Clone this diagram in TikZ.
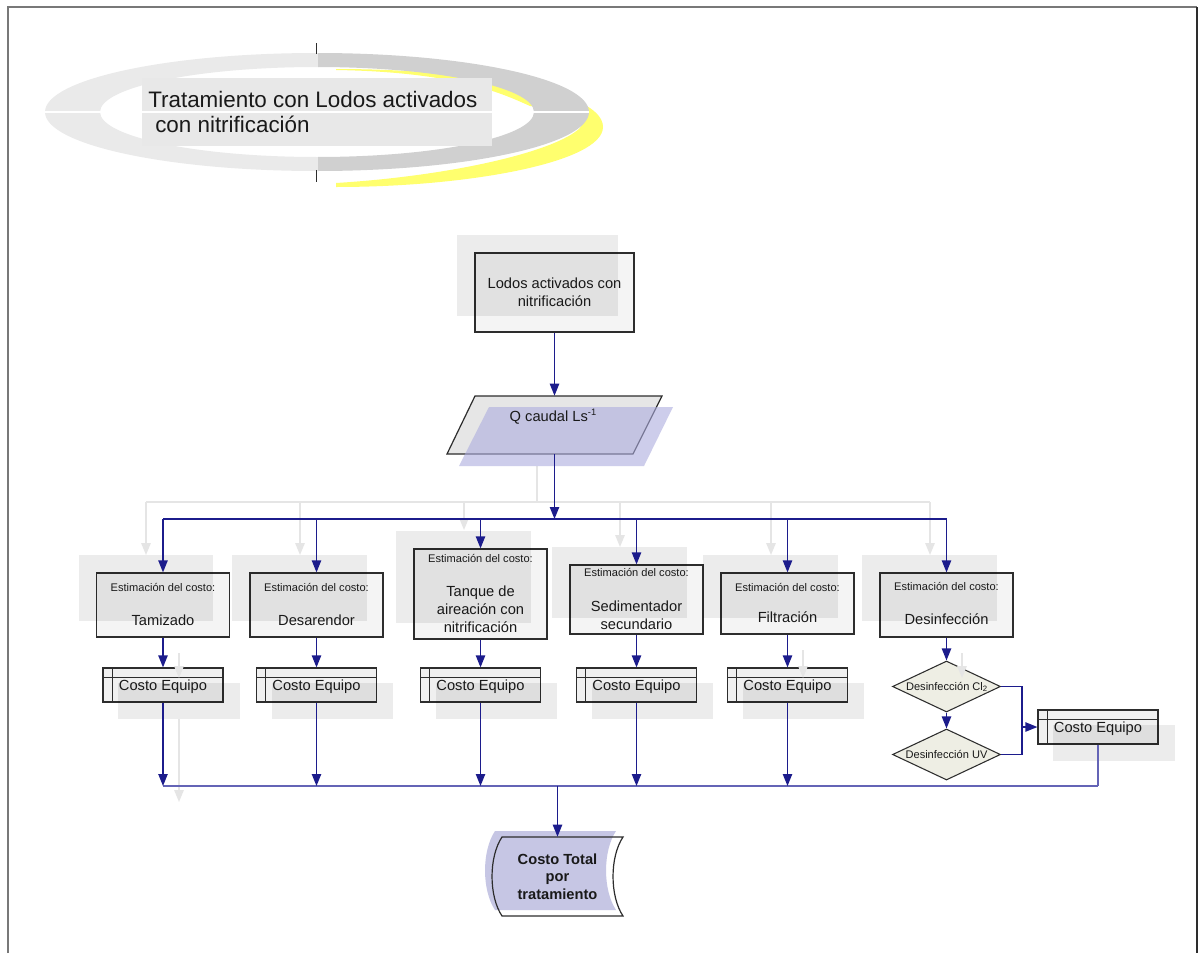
\documentclass[tikz,border=0pt]{standalone}
\usepackage{fontspec}
\setmainfont{Liberation Sans}
\usetikzlibrary{arrows.meta,shapes.geometric}

\definecolor{flowblue}{RGB}{28,28,140}
\definecolor{busblue}{RGB}{100,100,182}
\definecolor{ghostgray}{RGB}{229,229,229}
\definecolor{inkgray}{RGB}{45,45,45}
\definecolor{framegray}{RGB}{120,120,120}
\definecolor{boxfill}{RGB}{244,244,244}
\definecolor{costfill}{RGB}{240,240,240}
\definecolor{parafill}{RGB}{230,230,230}
\definecolor{lavender}{RGB}{172,172,222}
\definecolor{lavsolid}{RGB}{198,198,228}
\definecolor{ringlight}{RGB}{234,234,234}
\definecolor{ringdark}{RGB}{208,208,208}
\definecolor{sunyellow}{RGB}{255,255,110}
\definecolor{diafill}{RGB}{238,238,228}
\definecolor{titlefill}{RGB}{232,232,232}
\definecolor{textgray}{RGB}{25,25,25}

\tikzset{
  flowtip/.style={-{Triangle[length=9pt,width=7pt]}},
  flow/.style={draw=flowblue, line width=1pt, flowtip},
  flowline/.style={draw=flowblue, line width=1pt},
  busline/.style={draw=busblue, line width=1pt},
  ghostline/.style={draw=ghostgray, line width=1.4pt},
  ghostarrow/.style={ghostline, flowtip},
  estbox/.style={rectangle, draw=inkgray, line width=0.9pt, fill=boxfill,
    inner sep=0pt, minimum width=99.75pt},
  costbox/.style={rectangle, draw=inkgray, line width=0.9pt, fill=costfill,
    inner sep=0pt, minimum width=90pt, minimum height=25.5pt,
    path picture={
      \draw[inkgray, line width=0.7pt]
        ([xshift=6.75pt]path picture bounding box.north west) --
        ([xshift=6.75pt]path picture bounding box.south west);
      \draw[inkgray, line width=0.7pt]
        ([yshift=-6.75pt]path picture bounding box.north west) --
        ([yshift=-6.75pt]path picture bounding box.north east);}},
  decision/.style={diamond, draw=inkgray, line width=0.8pt, fill=diafill,
    inner sep=0pt, minimum width=81pt, minimum height=38.25pt},
  anchorbox/.style={rectangle, draw=none, inner sep=0pt},
  boxshadow/.style={fill=black, fill opacity=0.075, draw=none},
  titletxt/.style={font=\fontsize{16.8}{20}\selectfont, text=textgray, anchor=base west, inner sep=0pt},
  maintxt/.style={font=\fontsize{11}{13}\selectfont, text=textgray, anchor=base, inner sep=0pt},
  smalltxt/.style={font=\fontsize{8.3}{10}\selectfont, text=textgray, anchor=base, inner sep=0pt},
  totaltxt/.style={font=\bfseries\fontsize{11}{13.1}\selectfont, text=textgray, align=center, inner sep=0pt}
}

\begin{document}
\begin{tikzpicture}[x=0.75pt,y=-0.75pt]
\useasboundingbox (0,0) rectangle (1199,953);
\fill[white] (0,0) rectangle (1199,953);

% page frame
\draw[framegray, line width=1.5pt] (8,953) -- (8,7) -- (1197,7);
\draw[inkgray, line width=1.5pt] (1197,7) -- (1197,953);

% title emblem: yellow crescent behind a split grey ring, caption band on top
\fill[sunyellow] (336,69) .. controls (470,69) and (603,90) .. (603,127)
  .. controls (603,162) and (470,187) .. (336,187) -- (336,183)
  .. controls (450,176) and (555,152) .. (580,128)
  .. controls (590,112) and (545,108) .. (530,106)
  .. controls (505,95) and (460,72) .. (336,70) -- cycle;
\begin{scope}
  \clip (0,0) rectangle (318,200);
  \fill[ringlight, even odd rule] (317,112) ellipse [x radius=204pt, y radius=44.25pt]
    (317,112) ellipse [x radius=162.75pt, y radius=33.75pt];
\end{scope}
\begin{scope}
  \clip (318,0) rectangle (700,200);
  \fill[ringdark, even odd rule] (317,112) ellipse [x radius=204pt, y radius=44.25pt]
    (317,112) ellipse [x radius=162.75pt, y radius=33.75pt];
\end{scope}
\fill[titlefill] (142,78) rectangle (492,146);
\draw[white, line width=1.2pt] (45,112) -- (589,112);
\draw[inkgray, line width=0.6pt] (316,43) -- (316,54) (316,170) -- (316,182);
\node[titletxt] (title1) at (148,107) {Tratamiento con Lodos activados};
\node[titletxt] (title2) at (155,132) {con nitrificación};

% faint duplicate routing in the background
\draw[ghostline] (537,466) -- (537,502);
\draw[ghostline] (146,502) -- (930,502);
\foreach \gx/\gy in {146/555, 300/555, 464/530, 620/547, 771/555, 930/555}
  \draw[ghostarrow] (\gx,502) -- (\gx,\gy);

% source box
\node[estbox, minimum width=119.25pt, minimum height=59.25pt] (b0) at (554.5,292.5) {};
\fill[boxshadow] ([shift={(-17,-17)}]b0.north west) rectangle ([shift={(-17,-17)}]b0.south east);
\node[maintxt] (b0a) at (554.5,288) {Lodos activados con};
\node[maintxt] (b0b) at (554.5,306) {nitrificación};

% flow input (parallelogram)
\node[anchorbox, minimum width=139.5pt, minimum height=43.5pt] (q) at (554.5,425) {};
\draw[inkgray, line width=0.9pt, fill=parafill] (447,454) -- (475,396) -- (662,396) -- (633,454) -- cycle;
\fill[lavender, fill opacity=0.6] (459,466) -- (489,407) -- (673,407) -- (644,466) -- cycle;
\node[maintxt] (qt) at (553,421) {Q caudal Ls\raisebox{0.75ex}{\fontsize{7}{7}\selectfont -1}};

% estimation boxes
\node[estbox, minimum height=48pt]    (e1) at (163,605) {};
\node[estbox, minimum height=48pt]    (e2) at (316.5,605) {};
\node[estbox, minimum height=67.5pt]  (e3) at (480.5,594) {};
\node[estbox, minimum height=51.75pt] (e4) at (636.5,599.5) {};
\node[estbox, minimum height=45.75pt] (e5) at (787.5,603.5) {};
\node[estbox, minimum height=48pt]    (e6) at (946.5,605) {};
\foreach \e in {e1,e2,e3,e4,e5,e6}
  \fill[boxshadow] ([shift={(-17,-17)}]\e.north west) rectangle ([shift={(-17,-17)}]\e.south east);

% equipment cost boxes
\node[costbox] (c1) at (163,685) {};
\node[costbox] (c2) at (316.5,685) {};
\node[costbox] (c3) at (480.5,685) {};
\node[costbox] (c4) at (636.5,685) {};
\node[costbox] (c5) at (787.5,685) {};
\node[costbox] (c6) at (1098,727) {};
\foreach \c in {c1,c2,c3,c4,c5,c6}
  \fill[boxshadow] ([shift={(16,16)}]\c.north west) rectangle ([shift={(16,16)}]\c.south east);

% disinfection choices
\node[decision] (d1) at (946.5,686.5) {};
\node[decision] (d2) at (946.5,754.5) {};

% faint duplicate arrows over the lower boxes
\draw[ghostarrow] (179,653) -- (179,678);
\draw[ghostarrow] (803,650) -- (803,678);
\draw[ghostarrow] (962,653) -- (962,678);
\draw[ghostarrow] (179,719) -- (179,802);

% total cost (stored data shape)
\fill[white] (502,837) -- (623,837) .. controls (609.7,857) and (609.7,896) .. (623,916)
  -- (502,916) .. controls (488.7,896) and (488.7,857) .. (502,837) -- cycle;
\fill[lavsolid] (495,831) -- (616,831) .. controls (602.7,851) and (602.7,890) .. (616,910)
  -- (495,910) .. controls (481.7,890) and (481.7,851) .. (495,831) -- cycle;
\draw[inkgray, line width=0.9pt] (502,837) -- (623,837) .. controls (609.7,857) and (609.7,896) .. (623,916)
  -- (502,916) .. controls (488.7,896) and (488.7,857) .. (502,837) -- cycle;
\node[anchorbox, totaltxt, minimum width=82.5pt, minimum height=59.25pt] (total) at (557.5,876.5)
  {Costo Total\\por\\tratamiento};

% box captions
\node[smalltxt] (e1a) at (163,591) {Estimación del costo:};
\node[maintxt]  (e1b) at (163,625) {Tamizado};
\node[smalltxt] (e2a) at (316.5,591) {Estimación del costo:};
\node[maintxt]  (e2b) at (316.5,625) {Desarendor};
\node[smalltxt] (e3a) at (480.5,562) {Estimación del costo:};
\node[maintxt]  (e3b) at (480.5,596) {Tanque de};
\node[maintxt]  (e3c) at (480.5,614) {aireación con};
\node[maintxt]  (e3d) at (480.5,632) {nitrificación};
\node[smalltxt] (e4a) at (636.5,576) {Estimación del costo:};
\node[maintxt]  (e4b) at (636.5,611) {Sedimentador};
\node[maintxt]  (e4c) at (636.5,629) {secundario};
\node[smalltxt] (e5a) at (787.5,591) {Estimación del costo:};
\node[maintxt]  (e5b) at (787.5,622) {Filtración};
\node[smalltxt] (e6a) at (946.5,590) {Estimación del costo:};
\node[maintxt]  (e6b) at (946.5,624) {Desinfección};
\foreach \c in {c1,c2,c3,c4,c5,c6}
  \node[maintxt] (\c t) at ([yshift=-3.75pt]\c.center) {Costo Equipo};
\node[smalltxt] (d1t) at (947,690) {Desinfección Cl\textsubscript{2}};
\node[smalltxt] (d2t) at (946.5,758) {Desinfección UV};

% connectors
\coordinate (tb) at (554.5,519);
\coordinate (bb) at (557.5,786);
\coordinate (mj) at (1022,727);
\draw[flow] (b0.south) -- (q.north);
\draw[flow] (q.south) -- (tb);
\draw[flowline] (e1 |- tb) -- (e6 |- tb);
\foreach \e in {e1,e2,e3,e4,e5,e6}
  \draw[flow] (\e |- tb) -- (\e.north);
\foreach \i in {1,...,5}
  \draw[flow] (e\i.south) -- (c\i.north);
\draw[busline] (c1 |- bb) -- (c6 |- bb);
\foreach \i in {1,...,5}
  \draw[flow] (c\i.south) -- (c\i |- bb);
\draw[busline] (c6.south) -- (c6 |- bb);
\draw[flow] (e6.south) -- (d1.north);
\draw[flow] (d1.south) -- (d2.north);
\draw[flowline] (d1.east) -| (mj) |- (d2.east);
\draw[flow] (mj) -- (c6.west);
\draw[flow] (bb) -- (total.north);
\end{tikzpicture}
\end{document}
